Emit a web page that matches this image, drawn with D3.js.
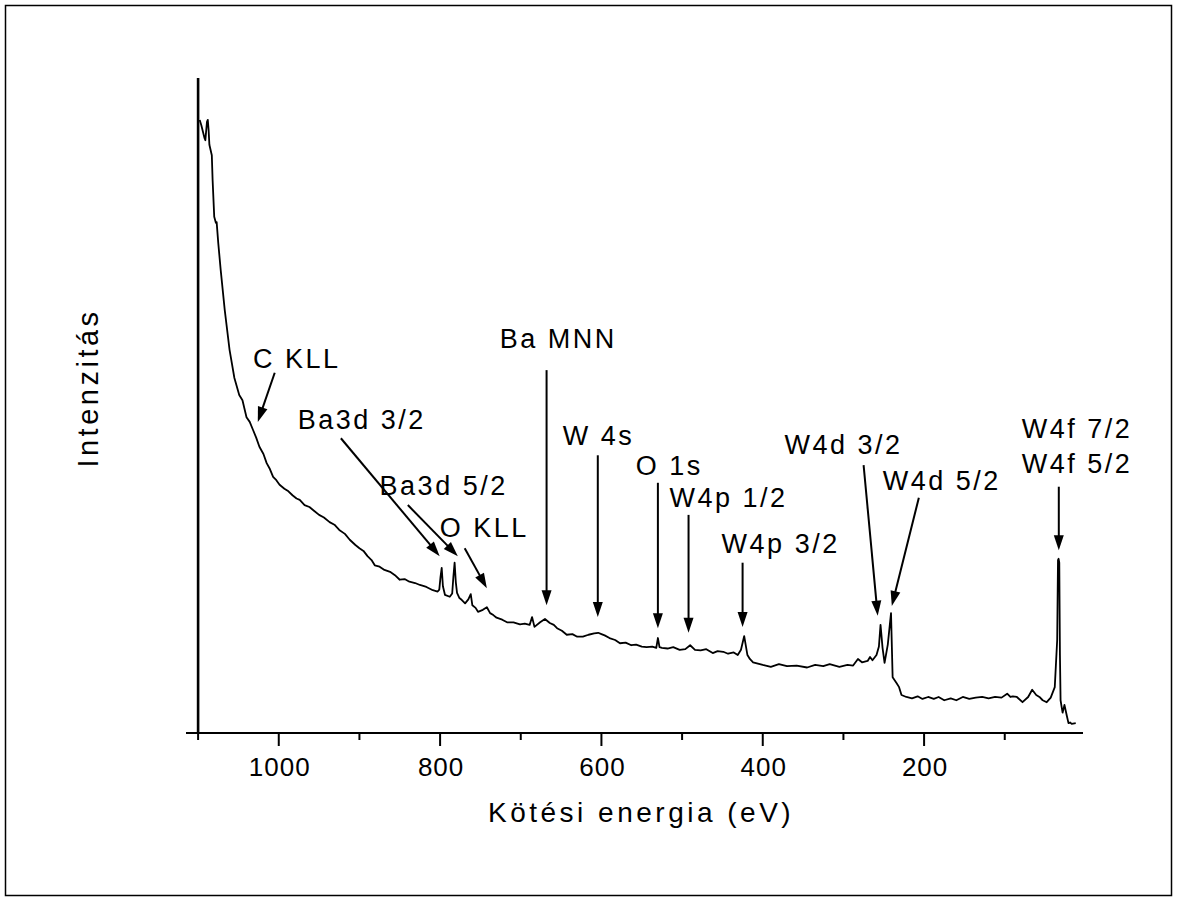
<!DOCTYPE html>
<html>
<head>
<meta charset="utf-8">
<script src="https://cdn.jsdelivr.net/npm/d3@7"></script>
<style>
    body { margin: 0; background: #fff; }
    text { font-family: "Liberation Sans", Arial, sans-serif; fill: #000; }
</style>
</head>
<body>
<div id="chart"></div>
<script>
// spectrum: binding energy (eV) and intensity (arb. units)
var energy = [1098, 1096, 1092, 1091, 1089, 1088, 1087, 1086, 1083, 1082, 1080, 1078, 1077, 1075, 1072,
    1067, 1061, 1055, 1049, 1045, 1040, 1036, 1032, 1028, 1024, 1019, 1015, 1011, 1007, 1003, 999, 993,
    988, 983, 978, 974, 968, 962, 956, 950, 944, 937, 931, 925, 918, 912, 905, 900, 895, 890, 885, 881,
    875, 869, 862, 856, 850, 844, 838, 831, 825, 817, 809, 803, 801, 799.5, 798, 796.5, 794, 788, 785,
    783.5, 782, 780.5, 779, 776, 773, 769, 765, 762, 760, 756, 753, 747, 742, 738, 734, 730, 723, 717,
    709, 701, 695, 689, 686, 683, 676, 670, 664, 659, 655, 649, 643, 636, 630, 623, 616, 609, 604, 600,
    596, 590, 583, 577, 570, 563, 557, 550, 544, 537, 532, 530, 528, 525, 518, 511, 503, 496, 490, 484,
    477, 470, 462, 456, 449, 443, 436, 431, 427, 423, 419, 416, 412, 406, 400, 390, 380, 370, 358, 345,
    335, 325, 317, 305, 295, 288, 282, 277, 270, 267, 264, 259, 256, 254, 251.5, 249, 245, 241, 239, 234,
    231, 228, 222, 215, 208, 202, 195, 188, 182, 175, 167, 160, 152, 144, 136, 128, 120, 112, 104, 97,
    93, 90, 85, 78, 71, 66, 61, 57, 53, 48, 43, 38, 35, 34, 33.3, 32.4, 31.6, 30.8, 29.5, 28.3, 26, 23, 21,
    19, 17, 12, 7, 3];
var intensity = [93.6, 92.8, 90.8, 90.5, 93.3, 93.6, 92.1, 89.8, 88.2, 84.4, 78.8, 77.9, 78.0, 74.8, 70.7,
    64.6, 58.5, 54.2, 51.6, 50.8, 48.2, 47.5, 46.3, 45.1, 43.7, 42.6, 41.2, 40.3, 39.1, 38.6, 37.9, 37.3,
    36.9, 36.3, 35.8, 35.6, 34.8, 34.5, 33.9, 33.3, 32.9, 32.2, 31.8, 31.0, 30.4, 29.5, 28.7, 28.2, 27.8,
    27.0, 26.4, 25.6, 25.4, 24.9, 24.6, 24.1, 23.4, 23.5, 23.1, 22.9, 22.6, 22.3, 21.8, 21.6, 21.9, 23.8,
    25.2, 22.4, 21.1, 20.8, 21.3, 23.9, 26.0, 23.0, 21.4, 20.6, 20.3, 19.8, 20.4, 21.2, 19.5, 19.1, 18.5,
    18.8, 19.2, 18.3, 18.0, 17.6, 17.3, 16.9, 16.9, 16.6, 16.7, 16.5, 17.7, 16.2, 16.9, 17.4, 16.8, 16.5,
    16.0, 15.6, 15.0, 15.1, 14.7, 14.7, 15.0, 15.2, 15.3, 15.1, 14.9, 14.5, 14.2, 13.7, 13.8, 13.4, 13.5,
    13.2, 13.1, 13.2, 13.0, 14.5, 13.1, 13.0, 12.9, 13.1, 12.7, 12.8, 13.4, 12.7, 12.6, 12.8, 12.2, 12.5,
    12.4, 12.1, 12.3, 11.9, 12.7, 14.8, 11.9, 11.3, 10.8, 10.6, 10.4, 10.1, 10.5, 10.2, 10.3, 10.0, 10.4,
    10.2, 10.5, 10.1, 10.4, 10.3, 11.3, 10.8, 11.0, 11.6, 11.1, 11.9, 13.2, 16.5, 13.0, 10.7, 13.5, 18.3,
    8.5, 7.6, 7.0, 5.8, 5.5, 5.3, 5.6, 5.2, 5.5, 5.2, 5.5, 5.0, 5.3, 5.0, 5.5, 5.2, 5.4, 5.5, 5.3, 5.5,
    5.4, 6.0, 5.5, 5.6, 5.5, 4.7, 5.5, 6.6, 5.8, 5.5, 5.0, 4.7, 5.4, 7.0, 14.2, 26.4, 26.6, 26.0, 12.0,
    5.0, 4.0, 3.1, 4.3, 2.6, 1.5, 1.6, 1.4, 1.5];

var majorTicks = [1000, 800, 600, 400, 200];
var minorTicks = [1100, 900, 700, 500, 300, 100];

var peakLabels = [['C KLL'], ['Ba3d 3/2'], ['Ba3d 5/2'], ['O KLL'], ['Ba MNN'], ['W 4s'], ['O 1s'],
    ['W4p 1/2'], ['W4p 3/2'], ['W4d 3/2'], ['W4d 5/2'], ['W4f 7/2', 'W4f 5/2']];
// arrow tip [eV, intensity] for each label
var peakTips = [[1026, 47.5], [800.5, 27.0], [778, 27.0], [742, 22.1], [668, 19.5], [604.5, 17.7],
    [530, 16.0], [492, 15.3], [425, 16.2], [257.5, 17.9], [240, 19.4], [33, 27.9]];

var width = 1177, height = 901;

var svg = d3.select('#chart').append('svg')
    .attr('width', width)
    .attr('height', height);

svg.append('rect')
    .attr('x', 5.5).attr('y', 5.5)
    .attr('width', 1166).attr('height', 890)
    .attr('fill', 'none')
    .attr('stroke', '#000')
    .attr('stroke-width', 1.5);

var x = d3.scaleLinear().domain([1115, 3]).range([186, 1083]);
var y = d3.scaleLinear().domain([0, 100]).range([733, 78]);

// axes
var xAxis = svg.append('g').attr('transform', 'translate(0,' + y(0) + ')');
xAxis.append('line')
    .attr('x1', x.range()[0]).attr('x2', x.range()[1])
    .attr('stroke', '#000').attr('stroke-width', 2.2);
xAxis.selectAll('line.major').data(majorTicks).enter().append('line')
    .attr('class', 'major')
    .attr('x1', function(d) { return x(d); })
    .attr('x2', function(d) { return x(d); })
    .attr('y1', 0).attr('y2', 13)
    .attr('stroke', '#000').attr('stroke-width', 2);
xAxis.selectAll('line.minor').data(minorTicks).enter().append('line')
    .attr('class', 'minor')
    .attr('x1', function(d) { return x(d); })
    .attr('x2', function(d) { return x(d); })
    .attr('y1', 0).attr('y2', 7)
    .attr('stroke', '#000').attr('stroke-width', 2);
xAxis.selectAll('text').data(majorTicks).enter().append('text')
    .attr('x', function(d) { return x(d) + 1; })
    .attr('y', 43)
    .attr('text-anchor', 'middle')
    .style('font-size', '26px')
    .style('letter-spacing', '1px')
    .text(function(d) { return d; });

svg.append('line')
    .attr('x1', x(1100)).attr('x2', x(1100))
    .attr('y1', y(0)).attr('y2', y(100))
    .attr('stroke', '#000').attr('stroke-width', 2.6);

svg.append('text')
    .attr('x', 488).attr('y', 822)
    .style('font-size', '28px')
    .style('letter-spacing', '3.5px')
    .text('Kötési energia (eV)');

svg.append('text')
    .attr('transform', 'translate(98,388) rotate(-90)')
    .attr('text-anchor', 'middle')
    .style('font-size', '29px')
    .style('letter-spacing', '3.5px')
    .text('Intenzitás');

// spectrum
var pts = energy.map(function(e, i) { return [e, intensity[i]]; });
var line = d3.line()
    .x(function(d) { return x(d[0]); })
    .y(function(d) { return y(d[1]); });

svg.append('path')
    .datum(pts)
    .attr('d', line)
    .attr('fill', 'none')
    .attr('stroke', '#000')
    .attr('stroke-width', 1.8)
    .attr('stroke-linejoin', 'round');

// annotation layout: label anchor and arrow tail, in data units
var labelAt = [[1032, 55.7], [976.5, 46.4], [875, 36.3], [800.5, 29.9], [726, 58.8], [648, 44.0],
    [557.5, 39.4], [515.5, 34.5], [451, 27.5], [373, 42.6], [251.3, 37.1], [79, 45.0]];
var tailAt = [[1005, 55.0], [923, 45.0], [840, 34.8], [769.5, 28.2], [668, 55.4], [604.5, 42.4],
    [530, 38.2], [492, 33.3], [425, 26.0], [275, 40.9], [206.5, 35.9], [33, 37.6]];

var ann = svg.append('g');
peakLabels.forEach(function(lines, i) {
    var t = ann.append('text')
        .attr('x', x(labelAt[i][0]))
        .attr('y', y(labelAt[i][1]))
        .style('font-size', '27px')
        .style('letter-spacing', '2.5px');
    lines.forEach(function(s, j) {
        t.append('tspan')
            .attr('x', x(labelAt[i][0]))
            .attr('dy', j === 0 ? 0 : 35)
            .text(s);
    });

    var x0 = x(tailAt[i][0]), y0 = y(tailAt[i][1]);
    var x1 = x(peakTips[i][0]), y1 = y(peakTips[i][1]);
    var dx = x1 - x0, dy = y1 - y0, len = Math.sqrt(dx * dx + dy * dy);
    var ux = dx / len, uy = dy / len;
    var hl = 15, hw = 5;
    var bx = x1 - ux * hl, by = y1 - uy * hl;

    ann.append('line')
        .attr('x1', x0).attr('y1', y0)
        .attr('x2', bx + ux * 2).attr('y2', by + uy * 2)
        .attr('stroke', '#000').attr('stroke-width', 2);
    ann.append('path')
        .attr('d', 'M' + x1 + ',' + y1 +
            'L' + (bx - uy * hw) + ',' + (by + ux * hw) +
            'L' + (bx + uy * hw) + ',' + (by - ux * hw) + 'Z')
        .attr('fill', '#000');
});
</script>
</body>
</html>
